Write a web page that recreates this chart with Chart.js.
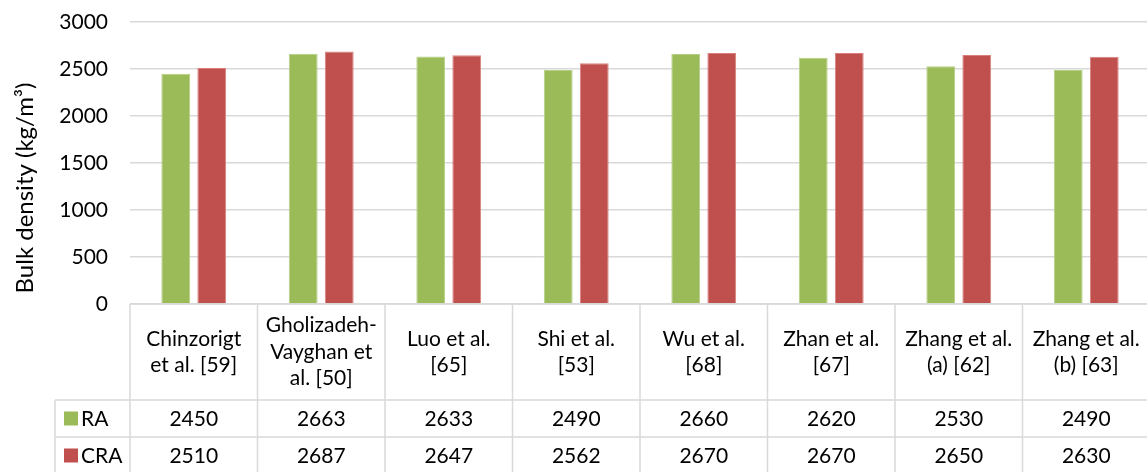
<!DOCTYPE html>
<html>
<head>
<meta charset="utf-8">
<script src="https://cdn.jsdelivr.net/npm/chart.js@4"></script>
<style>
html,body{margin:0;padding:0;background:#fff;overflow:hidden;}
#wrap{position:relative;width:1152px;height:472px;}
</style>
</head>
<body>
<div id="wrap"><canvas id="c" width="1152" height="472"></canvas></div>
<script>
const categories = [
  ["Chinzorigt","et al. [59]"],
  ["Gholizadeh-","Vayghan et","al. [50]"],
  ["Luo et al.","[65]"],
  ["Shi et al.","[53]"],
  ["Wu et al.","[68]"],
  ["Zhan et al.","[67]"],
  ["Zhang et al.","(a) [62]"],
  ["Zhang et al.","(b) [63]"]
];
const seriesNames = ["RA","CRA"];
const raValues  = [2450,2663,2633,2490,2660,2620,2530,2490];
const craValues = [2510,2687,2647,2562,2670,2670,2650,2630];
const yTicks = [0,500,1000,1500,2000,2500,3000];
const yTitle = "Bulk density (kg/m³)";

const FONT = "Lato";
const FS = 21;
const GREEN = "#9BBB59", RED = "#C0504D", GRID = "#d9d9d9";

const tablePlugin = {
  id: 'dataTable',
  afterDraw(chart) {
    const ctx = chart.ctx;
    const x = chart.scales.x;
    const area = chart.chartArea;
    const n = categories.length;
    const cw = (area.right - area.left) / n;
    const top = area.bottom;
    const r1 = top + 96, r2 = r1 + 37, r3 = r2 + 37;
    const legL = 55;
    ctx.save();
    ctx.strokeStyle = GRID;
    ctx.lineWidth = 1.5;
    ctx.beginPath();
    ctx.moveTo(area.left, top); ctx.lineTo(area.right, top);
    ctx.moveTo(legL, r1); ctx.lineTo(area.right, r1);
    ctx.moveTo(legL, r2); ctx.lineTo(area.right, r2);
    ctx.moveTo(legL, r1); ctx.lineTo(legL, r3);
    for (let i = 0; i <= n; i++) {
      const xx = area.left + i * cw;
      ctx.moveTo(xx, top); ctx.lineTo(xx, r3);
    }
    ctx.stroke();
    ctx.fillStyle = "#000";
    ctx.font = FS + "px " + FONT;
    ctx.textAlign = "center";
    ctx.textBaseline = "middle";
    const lh = 26.5;
    categories.forEach((lines, i) => {
      const cx = x.getPixelForValue(i);
      const cy = (top + r1) / 2;
      const y0 = cy - (lines.length - 1) * lh / 2;
      lines.forEach((t, k) => ctx.fillText(t, cx, y0 + k * lh));
      ctx.fillText(String(raValues[i]), cx, (r1 + r2) / 2 + 1);
      ctx.fillText(String(craValues[i]), cx, (r2 + r3) / 2 + 1);
    });
    const cols = [GREEN, RED];
    const rows = [(r1 + r2) / 2, (r2 + r3) / 2];
    ctx.textAlign = "left";
    seriesNames.forEach((s, k) => {
      ctx.fillStyle = cols[k];
      ctx.fillRect(64, rows[k] - 7, 14, 14);
      ctx.fillStyle = "#000";
      ctx.fillText(s, 81, rows[k] + 1);
    });
    ctx.save();
    ctx.translate(25, 188);
    ctx.rotate(-Math.PI / 2);
    ctx.textAlign = "center";
    ctx.font = "24px " + FONT;
    ctx.fillText(yTitle, 0, 0);
    ctx.restore();
    ctx.restore();
  }
};

new Chart(document.getElementById('c'), {
  type: 'bar',
  data: {
    labels: categories,
    datasets: [
      { label: seriesNames[0], data: raValues, backgroundColor: GREEN, borderColor: "#b5cf86", borderWidth: {top:1,left:1,right:1,bottom:0} },
      { label: seriesNames[1], data: craValues, backgroundColor: RED, borderColor: "#d9807d", borderWidth: {top:1,left:1,right:1,bottom:0} }
    ]
  },
  options: {
    responsive: false,
    animation: false,
    devicePixelRatio: 1,
    layout: { padding: { top: 22, left: 0, right: 2, bottom: 0 } },
    plugins: { legend: { display: false }, tooltip: { enabled: false }, title: { display: false } },
    datasets: { bar: { categoryPercentage: 0.565, barPercentage: 0.8 } },
    scales: {
      x: {
        ticks: { display: false },
        grid: { display: false },
        border: { display: false },
        afterFit(s) { s.height = 168; s.paddingLeft = 0; s.paddingRight = 0; s.paddingTop = 0; s.paddingBottom = 0; }
      },
      y: {
        min: 0, max: 3000,
        afterBuildTicks(s) { s.ticks = yTicks.map(v => ({ value: v })); },
        ticks: { font: { family: FONT, size: FS }, color: "#000", padding: 22, callback: (v) => String(v) },
        grid: { color: GRID, lineWidth: 1.5, drawTicks: false },
        border: { display: false },
        title: { display: false },
        afterFit(s) { s.width = 130; s.paddingTop = 0; s.paddingBottom = 0; s.paddingLeft = 0; s.paddingRight = 0; }
      }
    }
  },
  plugins: [tablePlugin]
});
</script>
</body>
</html>
